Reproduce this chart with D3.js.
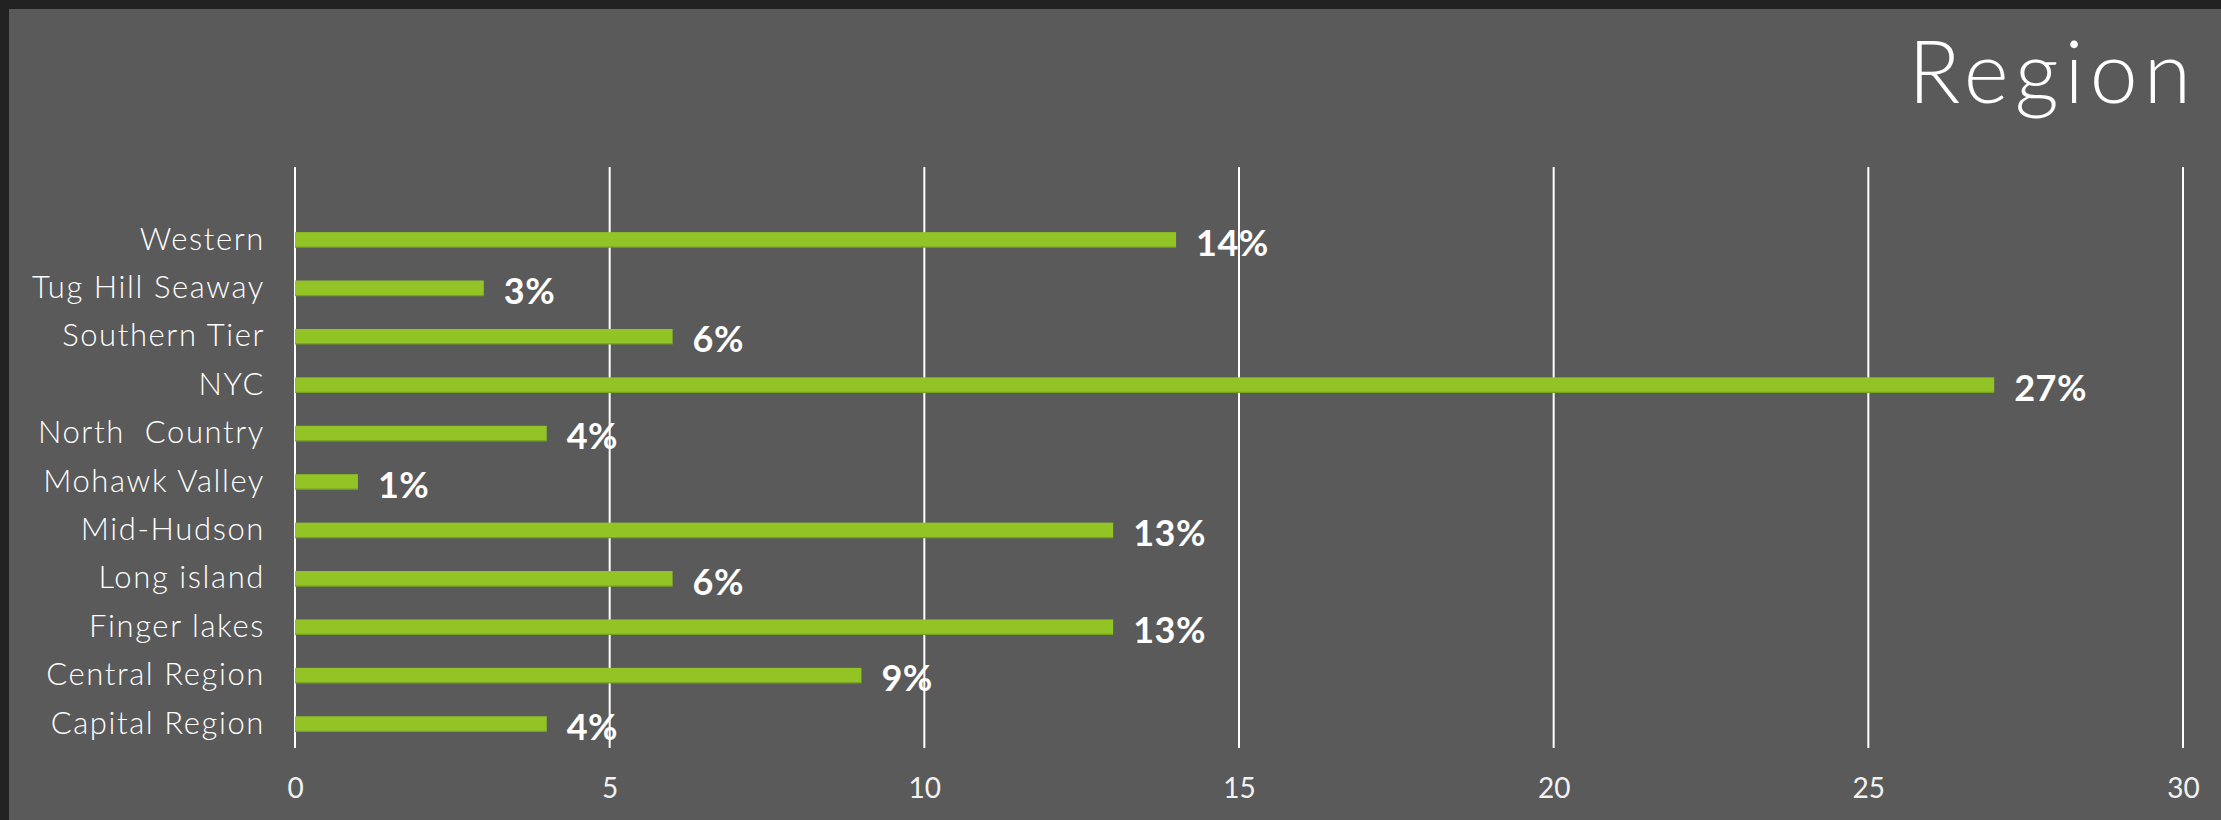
<!DOCTYPE html>
<html>
<head>
<meta charset="utf-8">
<script src="https://cdn.jsdelivr.net/npm/d3@7"></script>
<style>
  html, body { margin: 0; padding: 0; background: #212121; }
  svg { display: block; }
</style>
</head>
<body>
<svg id="chart" width="2221" height="820"></svg>
<script>
// Share of respondents by region (percent)
const regions = [
  "Western", "Tug Hill Seaway", "Southern Tier", "NYC", "North  Country",
  "Mohawk Valley", "Mid-Hudson", "Long island", "Finger lakes",
  "Central Region", "Capital Region"
];
const shares = [14, 3, 6, 27, 4, 1, 13, 6, 13, 9, 4];
const xTicks = [0, 5, 10, 15, 20, 25, 30];
const title = "Region";

const W = 2221, H = 820;
const svg = d3.select("#chart");
const font = "Lato, 'Open Sans', sans-serif";

// panel
svg.append("rect").attr("x", 9).attr("y", 9).attr("width", W - 9).attr("height", H - 9)
  .attr("fill", "#5a5a5a");

const plot = { left: 295, right: 2183, top: 167, bottom: 748 };

const x = d3.scaleLinear().domain([0, 30]).range([plot.left, plot.right]);
// categories occupy the lower part of the plot, one empty slot on top
const step = (plot.bottom - plot.top) / (regions.length + 1);
const y = d3.scaleBand().domain(regions)
  .range([plot.top + step, plot.bottom]).paddingInner(0.69).paddingOuter(0.345);

// vertical gridlines
svg.append("g").selectAll("line").data(xTicks).join("line")
  .attr("x1", d => x(d)).attr("x2", d => x(d))
  .attr("y1", plot.top).attr("y2", plot.bottom)
  .attr("stroke", "#ffffff").attr("stroke-width", 2);

// x axis labels
const xAxis = d3.axisBottom(x).tickValues(xTicks).tickSize(0).tickPadding(0);
const gx = svg.append("g").attr("transform", `translate(0,${plot.bottom + 30})`).call(xAxis);
gx.select(".domain").remove();
gx.selectAll("text").attr("fill", "#f2f2f2")
  .style("font-family", font).style("font-weight", "400").style("font-size", "28px")
  .attr("dy", "0.72em");

// y axis labels
const yAxis = d3.axisLeft(y).tickSize(0).tickPadding(0);
const gy = svg.append("g").attr("transform", `translate(${plot.left - 30},0)`).call(yAxis);
gy.select(".domain").remove();
gy.selectAll("text").attr("fill", "#ffffff").attr("xml:space", "preserve").style("white-space", "pre")
  .style("font-family", font).style("font-weight", "300").style("font-size", "31px")
  .style("letter-spacing", "1.6px");

// bars
svg.append("g").selectAll("rect").data(regions).join("rect")
  .attr("x", x(0)).attr("y", d => y(d))
  .attr("width", (d, i) => x(shares[i]) - x(0)).attr("height", y.bandwidth())
  .attr("fill", "#93c426");
svg.append("g").selectAll("line").data(regions).join("line")
  .attr("x1", x(0)).attr("x2", (d, i) => x(shares[i]))
  .attr("y1", d => y(d) + y.bandwidth()).attr("y2", d => y(d) + y.bandwidth())
  .attr("stroke", "#76a020").attr("stroke-width", 1.2);

// value labels
svg.append("g").selectAll("text").data(regions).join("text")
  .attr("x", (d, i) => x(shares[i]) + 20)
  .attr("y", d => y(d) + y.bandwidth() / 2 + 3)
  .attr("dy", "0.36em")
  .attr("fill", "#ffffff")
  .style("font-family", font).style("font-weight", "700").style("font-size", "36px")
  .style("letter-spacing", "0.5px")
  .text((d, i) => shares[i] + "%");

// title
svg.append("text").attr("x", 2197).attr("y", 103).attr("text-anchor", "end")
  .attr("fill", "#ffffff")
  .style("font-family", font).style("font-weight", "300").style("font-size", "86px")
  .style("letter-spacing", "6px")
  .text(title);
</script>
</body>
</html>
